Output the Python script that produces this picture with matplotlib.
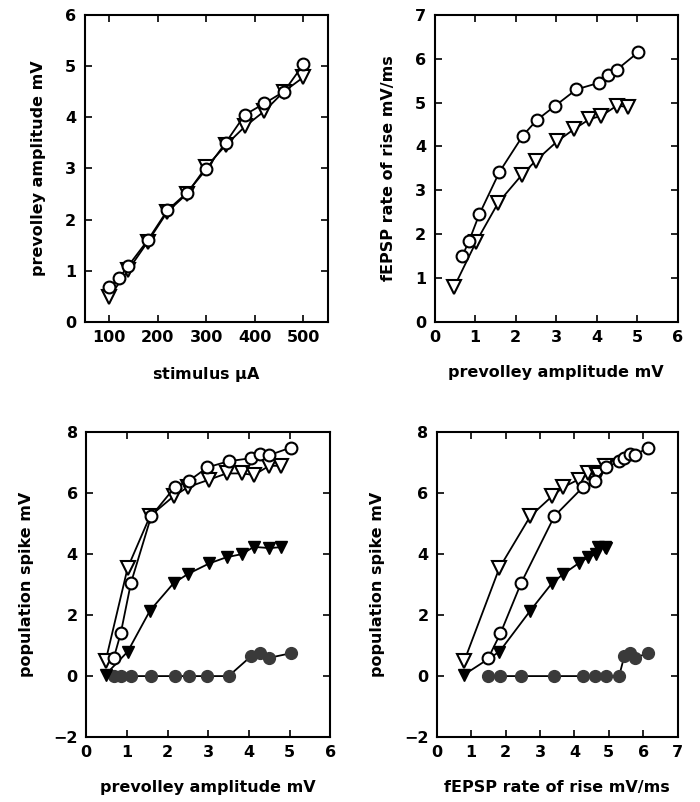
import numpy as np
import matplotlib.pyplot as plt

# panel A: prevolley vs stimulus
stim_circ = [100, 120, 140, 180, 220, 260, 300, 340, 380, 420, 460, 500]
pv_circ = [0.68, 0.85, 1.10, 1.60, 2.18, 2.52, 2.98, 3.50, 4.05, 4.27, 4.50, 5.03]
stim_tri = [100, 140, 180, 220, 260, 300, 340, 380, 420, 460, 500]
pv_tri = [0.48, 1.02, 1.57, 2.15, 2.50, 3.03, 3.45, 3.82, 4.12, 4.50, 4.78]

# panel B: fEPSP slope vs prevolley
slope_circ = [1.50, 1.85, 2.45, 3.42, 4.25, 4.60, 4.93, 5.30, 5.45, 5.62, 5.75, 6.15]
slope_tri = [0.80, 1.82, 2.72, 3.35, 3.68, 4.12, 4.40, 4.62, 4.70, 4.93, 4.90]

# panels C/D: population spike
ps_circ = [0.60, 1.40, 3.05, 5.25, 6.20, 6.40, 6.85, 7.05, 7.15, 7.30, 7.25, 7.50]
ps_circ_fill = [0.0, 0.0, 0.0, 0.0, 0.0, 0.0, 0.0, 0.0, 0.65, 0.75, 0.60, 0.75]
ps_tri = [0.50, 3.55, 5.25, 5.90, 6.20, 6.45, 6.65, 6.65, 6.60, 6.90, 6.90]
ps_tri_fill = [0.05, 0.80, 2.15, 3.05, 3.35, 3.70, 3.90, 4.00, 4.24, 4.20, 4.23]

plt.rcParams['font.family'] = 'DejaVu Sans'
plt.rcParams['font.weight'] = 'bold'

fig = plt.figure(figsize=(7, 8.02), dpi=100)

MS_C = 8.5
MS_T = 9.5
LW = 1.3


def style(ax, xlim, ylim, xticks, yticks, xlabel, ylabel):
    ax.set_xlim(*xlim)
    ax.set_ylim(*ylim)
    ax.set_xticks(xticks)
    ax.set_yticks(yticks)
    ax.tick_params(direction='in', top=True, right=True, length=5, width=1.2,
                   labelsize=11.5, pad=6)
    for lab in ax.get_xticklabels() + ax.get_yticklabels():
        lab.set_fontweight('bold')
    for s in ax.spines.values():
        s.set_linewidth(1.5)
    ax.set_xlabel(xlabel, fontsize=11.5, fontweight='bold', labelpad=14)
    ax.set_ylabel(ylabel, fontsize=11.5, fontweight='bold', labelpad=14)


def open_line(ax, x, y, marker, ms):
    ax.plot(x, y, color='black', lw=LW, marker=marker, ms=ms,
            mfc='white', mec='black', mew=1.5)


def filled_line(ax, x, y, marker, ms, color):
    ax.plot(x, y, color='black', lw=LW, marker=marker, ms=ms,
            mfc=color, mec=color, mew=1.0)


# A
ax1 = fig.add_axes([0.121, 0.5985, 0.347, 0.383])
open_line(ax1, stim_tri, pv_tri, 'v', MS_T)
open_line(ax1, stim_circ, pv_circ, 'o', MS_C)
style(ax1, (50, 550), (0, 6), [100, 200, 300, 400, 500], range(0, 7),
      r'stimulus $\mathbf{\mu}$A', 'prevolley amplitude mV')

# B
ax2 = fig.add_axes([0.621, 0.5985, 0.347, 0.383])
open_line(ax2, pv_tri, slope_tri, 'v', MS_T)
open_line(ax2, pv_circ, slope_circ, 'o', MS_C)
style(ax2, (0, 6), (0, 7), range(0, 7), range(0, 8),
      'prevolley amplitude mV', 'fEPSP rate of rise mV/ms')

# C
ax3 = fig.add_axes([0.123, 0.081, 0.349, 0.380])
filled_line(ax3, pv_circ, ps_circ_fill, 'o', MS_C, '#3a3a3a')
filled_line(ax3, pv_tri, ps_tri_fill, 'v', 8, 'black')
open_line(ax3, pv_tri, ps_tri, 'v', MS_T)
open_line(ax3, pv_circ, ps_circ, 'o', MS_C)
style(ax3, (0, 6), (-2, 8), range(0, 7), range(-2, 9, 2),
      'prevolley amplitude mV', 'population spike mV')

# D
ax4 = fig.add_axes([0.624, 0.081, 0.344, 0.380])
filled_line(ax4, slope_circ, ps_circ_fill, 'o', MS_C, '#3a3a3a')
filled_line(ax4, slope_tri, ps_tri_fill, 'v', 8, 'black')
open_line(ax4, slope_tri, ps_tri, 'v', MS_T)
open_line(ax4, slope_circ, ps_circ, 'o', MS_C)
style(ax4, (0, 7), (-2, 8), range(0, 8), range(-2, 9, 2),
      'fEPSP rate of rise mV/ms', 'population spike mV')

for ax in (ax3, ax4):
    ax.set_yticklabels(['\u22122', '0', '2', '4', '6', '8'], fontweight='bold')

fig.savefig('out.png', dpi=100)
